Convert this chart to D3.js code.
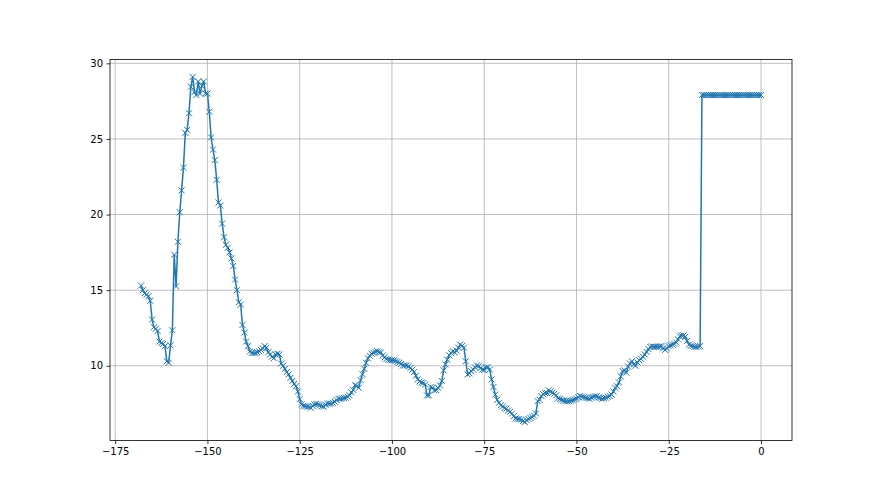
<!DOCTYPE html>
<html>
<head>
<meta charset="utf-8">
<script src="https://cdn.jsdelivr.net/npm/d3@7"></script>
<style>
  body { margin: 0; background: #fff; }
  svg { display: block; font-family: "DejaVu Sans", sans-serif; }
</style>
</head>
<body>
<script>
const w = 880
const h = 495
// axes box (matplotlib default subplot params)
const boxL = 110, boxR = 792, boxT = 59.4, boxB = 440.5

// sample grid: x runs from -168 to 0 in steps of 0.5
const xStart = -168
const xStep = 0.5

// y, one value per sample
const yVals = [
  15.3, 15.0, 14.8, 14.7, 14.6, 14.3, 13.05, 12.55, 12.45, 12.3,
  11.6, 11.5, 11.45, 11.3, 10.3, 10.2, 11.35, 12.35, 17.35, 15.25,
  18.2, 20.15, 21.6, 23.1, 25.4, 25.6, 26.7, 28.45, 29.1, 28.1,
  27.9, 28.8, 28.0, 28.5, 28.8, 28.0, 28.0, 26.8, 25.1, 24.3,
  23.6, 22.3, 20.8, 20.6, 19.4, 18.5, 18.0, 17.8, 17.5, 17.1,
  16.6, 15.7, 15.0, 14.2, 14.05, 12.7, 12.2, 11.6, 11.3, 10.95,
  10.85, 10.85, 10.85, 10.9, 10.96, 11.05, 11.15, 11.3, 11.2, 10.9,
  10.75, 10.6, 10.5, 10.75, 10.8, 10.75, 10.15, 10.0, 9.8, 9.58,
  9.43, 9.2, 9.0, 8.8, 8.65, 8.3, 7.8, 7.45, 7.35, 7.33,
  7.3, 7.3, 7.23, 7.35, 7.45, 7.48, 7.45, 7.38, 7.32, 7.3,
  7.42, 7.5, 7.5, 7.5, 7.55, 7.62, 7.73, 7.82, 7.82, 7.84,
  7.87, 7.89, 7.95, 8.05, 8.25, 8.4, 8.72, 8.68, 8.55, 9.05,
  9.45, 9.8, 10.2, 10.5, 10.65, 10.8, 10.86, 10.93, 10.96, 10.9,
  10.88, 10.68, 10.55, 10.45, 10.4, 10.37, 10.37, 10.36, 10.32, 10.26,
  10.2, 10.12, 10.02, 10.02, 10.02, 9.96, 9.85, 9.74, 9.58, 9.35,
  9.1, 8.96, 8.9, 8.86, 8.76, 8.04, 8.04, 8.6, 8.55, 8.38,
  8.4, 8.55, 8.7, 9.0, 9.7, 10.1, 10.4, 10.7, 10.85, 10.96,
  10.88, 11.0, 11.2, 11.4, 11.32, 11.2, 10.3, 9.43, 9.5, 9.64,
  9.75, 9.9, 10.02, 9.98, 9.85, 9.75, 9.72, 9.9, 9.9, 9.75,
  9.1, 8.6, 8.1, 7.75, 7.55, 7.4, 7.3, 7.2, 7.16, 7.05,
  6.95, 6.83, 6.67, 6.52, 6.48, 6.48, 6.44, 6.34, 6.28, 6.4,
  6.48, 6.55, 6.62, 6.7, 6.85, 7.66, 7.75, 8.0, 8.12, 8.2,
  8.2, 8.38, 8.3, 8.22, 8.15, 8.05, 7.85, 7.8, 7.75, 7.7,
  7.66, 7.66, 7.66, 7.7, 7.73, 7.78, 7.82, 7.92, 8.0, 7.96,
  7.92, 7.89, 7.86, 7.82, 7.9, 7.95, 7.98, 7.98, 7.9, 7.86,
  7.82, 7.86, 7.89, 7.95, 8.0, 8.1, 8.3, 8.55, 8.65, 8.9,
  9.3, 9.65, 9.7, 9.55, 9.95, 10.15, 10.3, 10.1, 10.0, 10.22,
  10.37, 10.46, 10.6, 10.75, 10.92, 11.1, 11.25, 11.28, 11.25, 11.25,
  11.25, 11.27, 11.3, 11.15, 11.05, 11.15, 11.3, 11.35, 11.4, 11.45,
  11.55, 11.75, 11.95, 12.0, 12.0, 11.92, 11.65, 11.4, 11.33, 11.3,
  11.25, 11.25, 11.27, 11.3,
  27.9, 27.9, 27.9, 27.9, 27.9, 27.9, 27.9, 27.9, 27.9, 27.9,
  27.9, 27.9, 27.9, 27.9, 27.9, 27.9, 27.9, 27.9, 27.9, 27.9,
  27.9, 27.9, 27.9, 27.9, 27.9, 27.9, 27.9, 27.9, 27.9, 27.9,
  27.9, 27.9, 27.9
]

const xTicks = [-175, -150, -125, -100, -75, -50, -25, 0]
const yTicks = [10, 15, 20, 25, 30]

const data = yVals.map((y, i) => ({x: xStart + i * xStep, y: y}))

const svg = d3.select('body').append('svg').attr('width', w).attr('height', h)

const xScale = d3.scaleLinear().domain([-176.4, 8.4]).range([boxL, boxR])
const yScale = d3.scaleLinear().domain([5.06, 30.26]).range([boxB, boxT])

const fmt = d => d < 0 ? '\u2212' + Math.abs(d) : String(d)

// grid
svg.append('g').selectAll('line').data(xTicks).enter().append('line')
  .attr('x1', d => xScale(d)).attr('x2', d => xScale(d))
  .attr('y1', boxT).attr('y2', boxB)
  .attr('stroke', '#b0b0b0').attr('stroke-width', 0.8)
svg.append('g').selectAll('line').data(yTicks).enter().append('line')
  .attr('x1', boxL).attr('x2', boxR)
  .attr('y1', d => yScale(d)).attr('y2', d => yScale(d))
  .attr('stroke', '#b0b0b0').attr('stroke-width', 0.8)

// the series
const line = d3.line().x(d => xScale(d.x)).y(d => yScale(d.y))
svg.append('path').datum(data).attr('d', line)
  .attr('fill', 'none').attr('stroke', '#1f77b4').attr('stroke-width', 1.5)
  .attr('stroke-linejoin', 'round').attr('stroke-linecap', 'square')

svg.append('g').selectAll('path').data(data).enter().append('path')
  .attr('transform', d => 'translate(' + xScale(d.x) + ',' + yScale(d.y) + ')')
  .attr('d', 'M-3,-3L3,3M-3,3L3,-3')
  .attr('stroke', '#1f77b4').attr('stroke-width', 1).attr('fill', 'none')

// axes
const xAxis = d3.axisBottom(xScale).tickValues(xTicks).tickFormat(fmt).tickSize(3.5).tickPadding(3.5)
const yAxis = d3.axisLeft(yScale).tickValues(yTicks).tickFormat(fmt).tickSize(3.5).tickPadding(3.5)

const gx = svg.append('g').attr('transform', 'translate(0,' + boxB + ')').call(xAxis)
const gy = svg.append('g').attr('transform', 'translate(' + boxL + ',0)').call(yAxis)
;[gx, gy].forEach(g => {
  g.select('.domain').remove()
  g.selectAll('.tick line').attr('stroke', '#000').attr('stroke-width', 0.8)
  g.selectAll('.tick text').attr('fill', '#000').style('font-size', '10px').style('font-family', '"DejaVu Sans", sans-serif')
})

// frame
svg.append('rect').attr('x', boxL).attr('y', boxT)
  .attr('width', boxR - boxL).attr('height', boxB - boxT)
  .attr('fill', 'none').attr('stroke', '#000').attr('stroke-width', 0.8)
</script>
</body>
</html>
